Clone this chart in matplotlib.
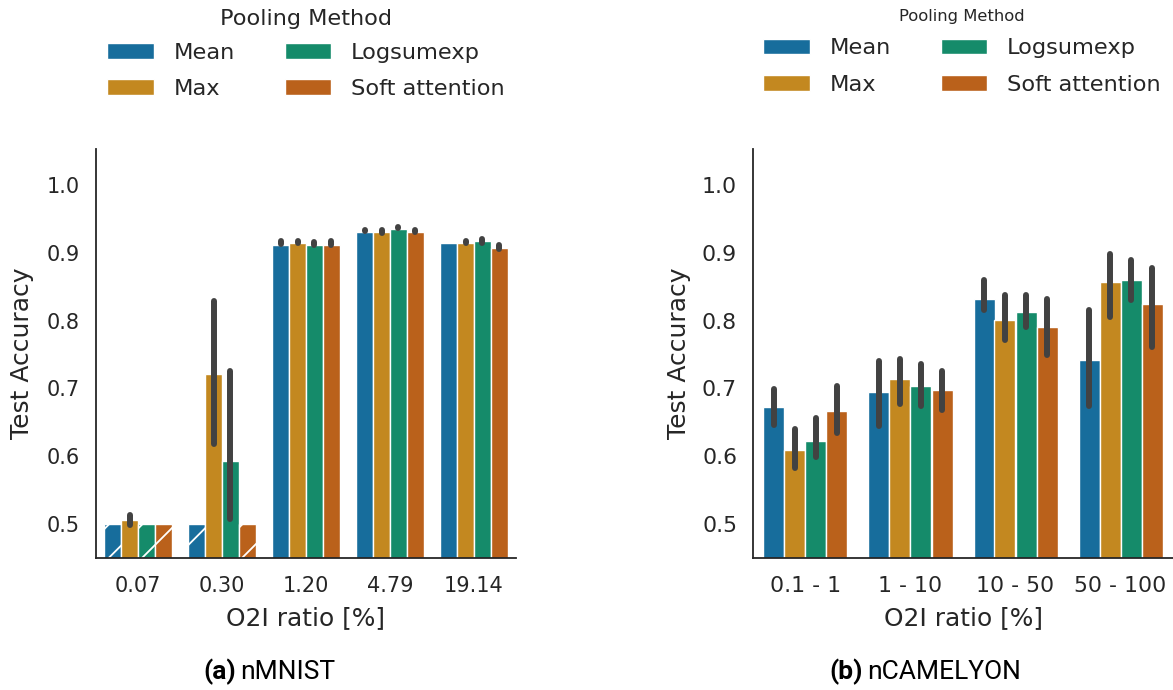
import colorsys
import numpy as np
import matplotlib
matplotlib.use("Agg")
import matplotlib.pyplot as plt
import matplotlib.colors as mcolors
from matplotlib.patches import Patch

# ---- data ----
methods = ["Mean", "Max", "Logsumexp", "Soft attention"]

mnist_ratios = ["0.07", "0.30", "1.20", "4.79", "19.14"]
mnist_mean = [[0.500, 0.500, 0.911, 0.931, 0.914],   # Mean
              [0.506, 0.721, 0.914, 0.931, 0.914],   # Max
              [0.500, 0.593, 0.911, 0.935, 0.917],   # Logsumexp
              [0.500, 0.500, 0.911, 0.931, 0.907]]   # Soft attention
mnist_lo = [[None, None, 0.913, 0.932, 0.917],
            [0.499, 0.618, 0.915, 0.929, 0.915],
            [None, 0.507, 0.912, 0.936, 0.915],
            [None, None, 0.912, 0.931, 0.906]]
mnist_hi = [[None, None, 0.917, 0.934, 0.918],
            [0.514, 0.829, 0.917, 0.934, 0.917],
            [None, 0.726, 0.916, 0.938, 0.921],
            [None, None, 0.918, 0.933, 0.912]]

camelyon_ratios = ["0.1 - 1", "1 - 10", "10 - 50", "50 - 100"]
camelyon_mean = [[0.6725, 0.695, 0.832, 0.742],
                 [0.609, 0.714, 0.801, 0.857],
                 [0.6225, 0.703, 0.813, 0.860],
                 [0.667, 0.6975, 0.791, 0.8245]]
camelyon_lo = [[0.646, 0.644, 0.815, 0.674],
               [0.582, 0.677, 0.771, 0.805],
               [0.599, 0.674, 0.790, 0.831],
               [0.635, 0.668, 0.749, 0.761]]
camelyon_hi = [[0.699, 0.741, 0.860, 0.816],
               [0.640, 0.744, 0.838, 0.898],
               [0.656, 0.736, 0.838, 0.890],
               [0.703, 0.725, 0.832, 0.878]]

base_colors = ["#0173b2", "#de8f05", "#029e73", "#d55e00"]


def desaturate(c, prop=0.75):
    r, g, b = mcolors.to_rgb(c)
    h, l, s = colorsys.rgb_to_hls(r, g, b)
    return colorsys.hls_to_rgb(h, l, s * prop)


colors = [desaturate(c) for c in base_colors]
text_col = "#262626"
err_col = "#424242"

plt.rcParams["font.family"] = "DejaVu Sans"
plt.rcParams["hatch.linewidth"] = 1.3
plt.rcParams["text.color"] = text_col
plt.rcParams["axes.labelcolor"] = text_col
plt.rcParams["xtick.color"] = text_col
plt.rcParams["ytick.color"] = text_col

fig = plt.figure(figsize=(11.73, 6.9), dpi=100)
ax1 = fig.add_axes([96 / 1173, 1 - 558 / 690, 420 / 1173, 409 / 690])
ax2 = fig.add_axes([753 / 1173, 1 - 558 / 690, 420 / 1173, 409 / 690])


def draw_panel(ax, cats, means, los, his, hatch_chance, tick_size, ylpad):
    x = np.arange(len(cats))
    w = 0.2
    for i, m in enumerate(methods):
        xs = x - 0.3 + i * w
        for j in range(len(cats)):
            hatched = hatch_chance and los[i][j] is None
            ax.bar(xs[j], means[i][j], width=w, color=colors[i],
                   edgecolor="white", linewidth=1.0,
                   hatch="/" if hatched else None)
            if los[i][j] is not None:
                ax.vlines(xs[j], los[i][j], his[i][j], colors=err_col,
                          linewidth=4.3, capstyle="round", zorder=3)
    ax.set_xlim(-0.5, len(cats) - 0.5)
    ax.set_ylim(0.45, 1.053)
    ax.set_xticks(x)
    ax.set_xticklabels(cats)
    ax.set_yticks([0.5, 0.6, 0.7, 0.8, 0.9, 1.0])
    ax.tick_params(axis="x", length=0, pad=13, labelsize=tick_size)
    ax.tick_params(axis="y", length=0, pad=11.5, labelsize=tick_size)
    ax.set_xlabel("O2I ratio [%]", fontsize=17.9, labelpad=7)
    ax.set_ylabel("Test Accuracy", fontsize=18, labelpad=ylpad)
    for s in ["top", "right"]:
        ax.spines[s].set_visible(False)
    for s in ["left", "bottom"]:
        ax.spines[s].set_color(text_col)
        ax.spines[s].set_linewidth(1.3)


draw_panel(ax1, mnist_ratios, mnist_mean, mnist_lo, mnist_hi, True, 15, 9)
draw_panel(ax2, camelyon_ratios, camelyon_mean, camelyon_lo, camelyon_hi,
           False, 15.8, 8)

handles = [Patch(facecolor=c, edgecolor="white", linewidth=1.0) for c in colors]
leg_kw = dict(ncol=2, frameon=False, fontsize=16.2, handlelength=2.05,
              handleheight=0.7, handletextpad=0.9, columnspacing=2.2,
              labelspacing=0.73, borderpad=0.3, loc="center",
              bbox_transform=fig.transFigure)
ax1.legend(handles, methods, bbox_to_anchor=(306 / 1173, 1 - 71 / 690), **leg_kw)
ax2.legend(handles, methods, bbox_to_anchor=(962 / 1173, 1 - 66.5 / 690), **leg_kw)
fig.text(306 / 1173, 1 - 19 / 690, "Pooling Method", fontsize=16.1,
         ha="center", va="center")
fig.text(962 / 1173, 1 - 17 / 690, "Pooling Method", fontsize=11.8,
         ha="center", va="center")

# captions
for xpos, tag, name in [(203, "(a)", "nMNIST"), (829, "(b)", "nCAMELYON")]:
    t = fig.text(xpos / 1173, 1 - 672 / 690, tag, family="Roboto",
                 fontweight="bold", fontsize=19, va="center", ha="left",
                 color="black")
    ax1.annotate(name, xy=(1, 0.5), xycoords=t, xytext=(3, 0),
                 textcoords="offset points", va="center", ha="left",
                 family="Roboto", fontsize=19, color="black",
                 annotation_clip=False)

fig.savefig("out.png", dpi=100)
